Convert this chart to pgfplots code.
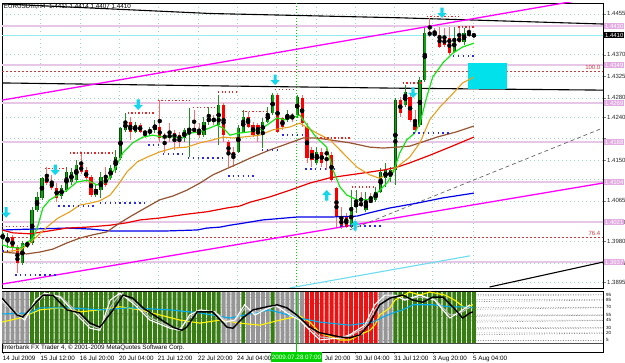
\documentclass[border=0pt]{standalone}
\usepackage{pgfplots}
\pgfplotsset{compat=1.18}
\usepackage{pgfplotstable}
\usepackage{fontspec}
\setmainfont{Liberation Sans}

\definecolor{bullo}{RGB}{10,80,10}
\definecolor{bullc}{RGB}{20,160,20}
\definecolor{bullw}{RGB}{40,140,40}
\definecolor{bearc}{RGB}{250,0,0}
\definecolor{bearw}{RGB}{250,110,110}
\definecolor{maGreen}{RGB}{20,230,20}
\definecolor{maOrange}{RGB}{230,160,30}
\definecolor{maBrown}{RGB}{150,85,50}
\definecolor{maRed}{RGB}{235,0,0}
\definecolor{maBlue}{RGB}{0,0,235}
\definecolor{magentaL}{RGB}{255,0,255}
\definecolor{pinkL}{RGB}{230,200,230}
\definecolor{curCyan}{RGB}{150,235,240}
\definecolor{fibRed}{RGB}{200,60,60}
\definecolor{arrowCyan}{RGB}{20,215,235}
\definecolor{boxCyan}{RGB}{0,225,235}
\definecolor{gridc}{RGB}{160,215,195}
\definecolor{resRed}{RGB}{230,40,40}
\definecolor{supBlue}{RGB}{40,40,240}
\definecolor{stripeG}{RGB}{55,125,20}
\definecolor{stripeGr}{RGB}{150,150,150}
\definecolor{stripeR}{RGB}{235,20,20}
\definecolor{stLime}{RGB}{0,210,0}
\definecolor{pinkBox}{RGB}{225,170,225}
\definecolor{lowCyan}{RGB}{110,220,240}

\pgfdeclareplotmark{arrdown}{%
  \pgfpathmoveto{\pgfqpoint{-1.6pt}{5.5pt}}%
  \pgfpathlineto{\pgfqpoint{1.6pt}{5.5pt}}%
  \pgfpathlineto{\pgfqpoint{1.6pt}{0pt}}%
  \pgfpathlineto{\pgfqpoint{4.6pt}{0pt}}%
  \pgfpathlineto{\pgfqpoint{0pt}{-5pt}}%
  \pgfpathlineto{\pgfqpoint{-4.6pt}{0pt}}%
  \pgfpathlineto{\pgfqpoint{-1.6pt}{0pt}}%
  \pgfpathclose
  \pgfusepathqfill}
\pgfdeclareplotmark{arrup}{%
  \pgfpathmoveto{\pgfqpoint{-1.6pt}{-5.5pt}}%
  \pgfpathlineto{\pgfqpoint{1.6pt}{-5.5pt}}%
  \pgfpathlineto{\pgfqpoint{1.6pt}{0pt}}%
  \pgfpathlineto{\pgfqpoint{4.6pt}{0pt}}%
  \pgfpathlineto{\pgfqpoint{0pt}{5pt}}%
  \pgfpathlineto{\pgfqpoint{-4.6pt}{0pt}}%
  \pgfpathlineto{\pgfqpoint{-1.6pt}{0pt}}%
  \pgfpathclose
  \pgfusepathqfill}

% EURUSD H4 candles: index, open, high, low, close
\pgfplotstableread{
i o h l c
0 1.3983 1.4006 1.3973 1.3998
1 1.3979 1.3998 1.3966 1.3989
4 1.3935 1.3981 1.3931 1.3977
5 1.3971 1.3981 1.3966 1.3977
6 1.3977 1.4052 1.3973 1.4046
7 1.4046 1.4083 1.4041 1.4073
8 1.4071 1.4115 1.4067 1.4112
12 1.4075 1.4098 1.4069 1.4092
13 1.4087 1.4136 1.4083 1.4125
14 1.4104 1.4133 1.4098 1.4125
15 1.4108 1.4150 1.4104 1.4140
19 1.4077 1.4098 1.4073 1.4090
20 1.4087 1.4125 1.4071 1.4115
22 1.4112 1.4140 1.4108 1.4133
23 1.4129 1.4171 1.4123 1.4156
24 1.4154 1.4219 1.4150 1.4217
25 1.4213 1.4248 1.4209 1.4230
27 1.4209 1.4230 1.4206 1.4223
30 1.4206 1.4219 1.4202 1.4213
31 1.4213 1.4234 1.4206 1.4223
37 1.4196 1.4217 1.4188 1.4213
38 1.4209 1.4259 1.4156 1.4217
41 1.4202 1.4240 1.4198 1.4230
42 1.4230 1.4261 1.4223 1.4238
44 1.4223 1.4286 1.4181 1.4265
48 1.4167 1.4223 1.4165 1.4217
49 1.4209 1.4254 1.4206 1.4240
53 1.4206 1.4238 1.4175 1.4230
54 1.4230 1.4261 1.4227 1.4248
55 1.4248 1.4290 1.4244 1.4286
58 1.4234 1.4254 1.4230 1.4244
60 1.4244 1.4286 1.4238 1.4282
64 1.4144 1.4177 1.4140 1.4167
71 1.4010 1.4087 1.4008 1.4052
72 1.4052 1.4087 1.4040 1.4060
74 1.4046 1.4083 1.4041 1.4062
76 1.4067 1.4094 1.4062 1.4083
77 1.4083 1.4133 1.4081 1.4125
78 1.4112 1.4144 1.4094 1.4129
79 1.4115 1.4136 1.4104 1.4129
80 1.4129 1.4280 1.4098 1.4275
82 1.4265 1.4307 1.4261 1.4292
85 1.4223 1.4323 1.4219 1.4317
86 1.4317 1.4426 1.4313 1.4415
92 1.4376 1.4428 1.4373 1.4405
94 1.4396 1.4426 1.4390 1.4415
}\bull
\pgfplotstableread{
i o h l c
2 1.3989 1.3994 1.3958 1.3966
3 1.3968 1.3973 1.3914 1.3935
9 1.4115 1.4136 1.4098 1.4102
10 1.4104 1.4119 1.4087 1.4092
11 1.4092 1.4102 1.4062 1.4071
16 1.4140 1.4165 1.4121 1.4125
17 1.4129 1.4136 1.4104 1.4112
18 1.4115 1.4119 1.4073 1.4077
21 1.4115 1.4136 1.4094 1.4098
26 1.4230 1.4240 1.4192 1.4209
28 1.4223 1.4227 1.4206 1.4209
29 1.4209 1.4213 1.4196 1.4206
32 1.4219 1.4275 1.4188 1.4196
33 1.4202 1.4206 1.4165 1.4196
34 1.4202 1.4227 1.4188 1.4198
35 1.4206 1.4213 1.4171 1.4196
36 1.4202 1.4209 1.4175 1.4192
39 1.4217 1.4254 1.4206 1.4209
40 1.4213 1.4227 1.4196 1.4202
43 1.4236 1.4244 1.4223 1.4232
45 1.4265 1.4269 1.4188 1.4202
46 1.4188 1.4192 1.4136 1.4161
47 1.4167 1.4177 1.4136 1.4156
50 1.4240 1.4250 1.4217 1.4219
51 1.4223 1.4230 1.4198 1.4202
52 1.4223 1.4227 1.4188 1.4206
56 1.4286 1.4290 1.4206 1.4209
57 1.4238 1.4240 1.4213 1.4219
59 1.4244 1.4248 1.4230 1.4238
61 1.4280 1.4286 1.4219 1.4227
62 1.4219 1.4227 1.4144 1.4154
63 1.4171 1.4177 1.4136 1.4150
65 1.4167 1.4175 1.4136 1.4144
66 1.4167 1.4175 1.4129 1.4161
67 1.4161 1.4167 1.4104 1.4108
68 1.4092 1.4094 1.4010 1.4031
69 1.4031 1.4052 1.4006 1.4010
70 1.4031 1.4040 1.4008 1.4010
73 1.4060 1.4083 1.4052 1.4056
75 1.4067 1.4081 1.4060 1.4062
81 1.4275 1.4282 1.4240 1.4248
83 1.4282 1.4286 1.4230 1.4234
84 1.4234 1.4254 1.4209 1.4213
87 1.4417 1.4447 1.4407 1.4411
88 1.4415 1.4426 1.4407 1.4411
89 1.4411 1.4428 1.4384 1.4386
90 1.4405 1.4426 1.4386 1.4390
91 1.4405 1.4428 1.4369 1.4373
93 1.4407 1.4428 1.4394 1.4396
95 1.4415 1.4428 1.4407 1.4411
96 1.4411 1.4414 1.4407 1.4410
}\bear

\begin{document}
\begin{tikzpicture}
\path[use as bounding box] (0,0) rectangle (625pt,363pt);
\fill[white] (0,0) rectangle (625pt,363pt);

\begin{axis}[
  at={(2pt,360pt)}, anchor=north west,
  width=601pt, height=285pt, scale only axis,
  xmin=-0.14, xmax=122.3, ymin=1.38829, ymax=1.44779,
  axis line style={line width=0.8pt},
  ytick={1.4455,1.4370,1.4325,1.4280,1.4240,1.4195,1.4150,1.4110,1.4065,1.4020,1.3980,1.3935,1.3895},
  yticklabels={1.4455,1.4370,1.4325,1.4280,1.4240,,1.4150,,1.4065,1.4020,1.3980,1.3935,1.3895},
  ytick pos=right, yticklabel pos=right,
  xtick={0,7.7,15.7,23.7,31.6,39.8,47.7,55.7,63.8,71.8,79.7,87.6,95.8},
  xticklabels={}, x tick style={draw=none},
  tick align=outside, major tick length=3pt,
  yticklabel style={font=\fontsize{6}{7}\selectfont, inner sep=1pt, text=black!85},
  grid=major, grid style={gridc, line width=0.5pt, dash pattern=on 0.6pt off 3.4pt},
  unbounded coords=jump,
]
% pivot style horizontal levels
\addplot[pinkL, line width=1.6pt, forget plot] coordinates {(-1,1.4430) (130,1.4430)};
\addplot[pinkL, line width=1.6pt, forget plot] coordinates {(-1,1.4349) (130,1.4349)};
\addplot[pinkL, line width=1.6pt, forget plot] coordinates {(-1,1.4269) (130,1.4269)};
\addplot[pinkL, line width=1.6pt, forget plot] coordinates {(-1,1.4188) (130,1.4188)};
\addplot[pinkL, line width=1.6pt, forget plot] coordinates {(-1,1.4104) (130,1.4104)};
\addplot[pinkL, line width=1.6pt, forget plot] coordinates {(-1,1.4021) (130,1.4021)};
\addplot[pinkL, line width=1.6pt, forget plot] coordinates {(-1,1.3937) (130,1.3937)};
% current bid
\addplot[curCyan, line width=1.5pt] coordinates {(-1,1.4410) (130,1.4410)};
% fibo levels
\addplot[fibRed, line width=0.6pt, dash pattern=on 2pt off 2pt] coordinates {(-1,1.4336) (130,1.4336)};
\addplot[fibRed, line width=0.6pt, dash pattern=on 2pt off 2pt] coordinates {(-1,1.3989) (130,1.3989)};
% vertical marker
\addplot[stLime, line width=0.7pt, dash pattern=on 1pt off 2pt] coordinates {(59.9,1.38) (59.9,1.45)};
% black trend lines
\addplot[black, line width=1.1pt] coordinates {(-0.14,1.4476) (42.2,1.4456) (80.9,1.4447) (122.3,1.4434)};
\addplot[black, line width=1.1pt] coordinates {(-0.14,1.4311) (42.2,1.4305) (80.9,1.4300) (122.3,1.4296)};
\addplot[black, line width=1.1pt] coordinates {(99.2,1.3885) (122.3,1.3937)};
% magenta channel
\addplot[magentaL, line width=1.3pt] coordinates {(-0.14,1.4275) (122.3,1.4492)};
\addplot[magentaL, line width=1.3pt] coordinates {(-0.14,1.3891) (122.3,1.4102)};
% dashed trend line
\addplot[black!60, line width=0.7pt, dash pattern=on 4pt off 3pt] coordinates {(70.7,1.4004) (122.3,1.4217)};
% cyan lower line
\addplot[lowCyan, line width=1.1pt] coordinates {(58.5,1.3883) (95.2,1.3950)};
% cyan target box
\addplot[draw=none, fill=boxCyan] coordinates {(94.8,1.4353) (102.7,1.4353) (102.7,1.4298) (94.8,1.4298)} -- cycle;

% candles: wicks
\addplot[only marks, mark=none, error bars/.cd, y dir=both, y explicit, error mark=none,
  error bar style={draw=bullw, line width=0.9pt}]
  table[x=i, y expr={(\thisrow{h}+\thisrow{l})/2}, y error expr={(\thisrow{h}-\thisrow{l})/2}] {\bull};
\addplot[only marks, mark=none, error bars/.cd, y dir=both, y explicit, error mark=none,
  error bar style={draw=bearw, line width=0.9pt}]
  table[x=i, y expr={(\thisrow{h}+\thisrow{l})/2}, y error expr={(\thisrow{h}-\thisrow{l})/2}] {\bear};
% candles: bodies
\addplot[only marks, mark=none, error bars/.cd, y dir=both, y explicit, error mark=none,
  error bar style={draw=bullo, line width=3.3pt}]
  table[x=i, y expr={(\thisrow{o}+\thisrow{c})/2}, y error expr={max(abs(\thisrow{c}-\thisrow{o})/2,0.00004)}] {\bull};
\addplot[only marks, mark=none, error bars/.cd, y dir=both, y explicit, error mark=none,
  error bar style={draw=bullc, line width=1.7pt}]
  table[x=i, y expr={(\thisrow{o}+\thisrow{c})/2}, y error expr={max(abs(\thisrow{c}-\thisrow{o})/2-0.00003,0.00001)}] {\bull};
\addplot[only marks, mark=none, error bars/.cd, y dir=both, y explicit, error mark=none,
  error bar style={draw=bearc, line width=3.2pt}]
  table[x=i, y expr={(\thisrow{o}+\thisrow{c})/2}, y error expr={max(abs(\thisrow{c}-\thisrow{o})/2,0.00003)}] {\bear};

% moving averages
\addplot[maBlue, line width=1.2pt] coordinates {(-0.14,1.4004) (6.2,1.4006) (13.1,1.4008) (17.8,1.4006) (21.9,1.4002) (33.5,1.4002) (39.6,1.4004) (41.6,1.4008) (44.3,1.4010) (46.3,1.4014) (48.3,1.4017) (53.0,1.4025) (59.9,1.4031) (66.7,1.4031) (72.2,1.4033) (74.8,1.4040) (78.9,1.4050) (84.4,1.4060) (89.7,1.4071) (96,1.4081)};
\addplot[maRed, line width=1.2pt] coordinates {(-0.14,1.4004) (2.1,1.3998) (5.6,1.3996) (8.2,1.4000) (13.1,1.4008) (17.2,1.4010) (21.9,1.4014) (25.3,1.4019) (28.0,1.4025) (32.0,1.4029) (37.5,1.4037) (41.6,1.4042) (45.7,1.4050) (48.3,1.4054) (50.4,1.4062) (54.4,1.4073) (58.5,1.4087) (62.6,1.4102) (66.7,1.4113) (70.7,1.4119) (74.8,1.4125) (77.5,1.4129) (80.3,1.4135) (82.9,1.4144) (87.0,1.4160) (91.1,1.4177) (96,1.4198)};
\addplot[maBrown, line width=1.2pt] coordinates {(-0.14,1.3958) (2.1,1.3956) (4.9,1.3954) (7.6,1.3958) (10.2,1.3964) (13.1,1.3977) (15.7,1.3987) (18.4,1.3994) (21.2,1.4000) (23.9,1.4019) (26.5,1.4035) (29.4,1.4052) (32.0,1.4067) (34.7,1.4075) (37.5,1.4087) (40.2,1.4102) (42.8,1.4119) (46.3,1.4135) (48.3,1.4144) (50.4,1.4154) (54.4,1.4171) (58.5,1.4186) (61.2,1.4196) (64.0,1.4196) (66.7,1.4192) (70.7,1.4186) (74.8,1.4177) (77.5,1.4175) (80.3,1.4177) (82.9,1.4179) (85.6,1.4188) (88.5,1.4198) (92.5,1.4209) (96,1.4221)};
\addplot[maOrange, line width=1.1pt] coordinates {(-0.14,1.3958) (3.5,1.3962) (5.6,1.3977) (7.2,1.3993) (9.0,1.4010) (11.3,1.4029) (13.7,1.4042) (15.7,1.4056) (17.8,1.4060) (19.8,1.4065) (21.9,1.4077) (23.5,1.4098) (25.3,1.4125) (27.4,1.4146) (29.4,1.4156) (32.0,1.4167) (34.7,1.4175) (37.5,1.4177) (40.2,1.4186) (42.8,1.4192) (44.9,1.4198) (46.9,1.4196) (48.9,1.4198) (52.4,1.4202) (55.0,1.4213) (58.5,1.4219) (60.5,1.4227) (62.2,1.4217) (64.0,1.4206) (66.7,1.4192) (69.3,1.4165) (72.2,1.4135) (74.8,1.4119) (76.8,1.4112) (78.9,1.4123) (80.9,1.4140) (82.9,1.4156) (85.0,1.4186) (87.0,1.4234) (89.1,1.4261) (91.1,1.4282) (93.7,1.4311) (96,1.4323)};
\addplot[maGreen, line width=1.2pt] coordinates {(-0.14,1.3973) (1.5,1.3968) (3.5,1.3966) (4.9,1.3977) (6.2,1.3987) (7.2,1.4014) (8.2,1.4050) (9.6,1.4067) (11.3,1.4077) (13.1,1.4087) (15.1,1.4104) (17.2,1.4108) (19.2,1.4098) (21.2,1.4104) (22.9,1.4133) (24.5,1.4165) (26.5,1.4186) (28.6,1.4198) (30.6,1.4202) (32.6,1.4198) (34.7,1.4198) (36.5,1.4196) (38.1,1.4206) (40.2,1.4209) (42.2,1.4217) (43.6,1.4223) (44.9,1.4217) (46.3,1.4202) (47.9,1.4206) (50.4,1.4209) (52.4,1.4213) (54.4,1.4227) (55.9,1.4238) (57.5,1.4234) (59.5,1.4240) (60.5,1.4244) (62.0,1.4223) (64.0,1.4196) (66.0,1.4177) (67.3,1.4129) (68.7,1.4094) (70.1,1.4077) (72.2,1.4067) (74.2,1.4067) (75.4,1.4071) (76.8,1.4087) (78.3,1.4102) (79.5,1.4123) (80.9,1.4165) (82.3,1.4192) (83.9,1.4206) (85.0,1.4227) (86.4,1.4282) (87.6,1.4323) (89.7,1.4353) (91.7,1.4373) (93.7,1.4386) (96,1.4394)};

% fractal resistance (red) and support (blue) levels
\addplot[resRed, line width=1.3pt, dash pattern=on 1.3pt off 2.2pt] coordinates {
 (-0.14,1.4012) (6.0,1.4012) (6.0,nan)
 (8.6,1.4133) (13.1,1.4133) (13.1,nan)
 (13.7,1.4165) (22.9,1.4165) (22.9,nan)
 (25.5,1.4248) (31.0,1.4248) (31.0,nan)
 (31.6,1.4275) (38.1,1.4275) (38.1,nan)
 (38.8,1.4259) (43.6,1.4259) (43.6,nan)
 (43.9,1.4292) (47.9,1.4292) (47.9,nan)
 (48.7,1.4252) (53.8,1.4252) (53.8,nan)
 (55.5,1.4298) (59.1,1.4298) (59.1,nan)
 (64.0,1.4196) (70.7,1.4196) (70.7,nan)
 (71.1,1.4094) (75.8,1.4094) (75.8,nan)
 (81.5,1.4311) (85.4,1.4311) (85.4,nan)
 (86.4,1.4449) (93.0,1.4449) (93.0,nan)
 (92.8,1.4428) (96.0,1.4428)};
\addplot[supBlue, line width=1.6pt, dash pattern=on 1.6pt off 3.3pt] coordinates {
 (-0.14,1.3960) (0.9,1.3960) (0.9,nan)
 (2.5,1.3910) (11.1,1.3910) (11.1,nan)
 (11.3,1.4054) (18.8,1.4054) (18.8,nan)
 (19.8,1.4060) (29.0,1.4060) (29.0,nan)
 (29.6,1.4181) (32.0,1.4181) (32.0,nan)
 (32.6,1.4163) (36.7,1.4163) (36.7,nan)
 (37.7,1.4154) (44.9,1.4154) (44.9,nan)
 (45.9,1.4117) (51.8,1.4117) (51.8,nan)
 (52.8,1.4171) (55.9,1.4171) (55.9,nan)
 (56.9,1.4202) (60.9,1.4202) (60.9,nan)
 (61.6,1.4131) (67.7,1.4131) (67.7,nan)
 (68.7,1.4012) (77.5,1.4012) (77.5,nan)
 (83.6,1.4206) (91.1,1.4206) (91.1,nan)
 (91.7,1.4367) (96.0,1.4367)};
% signal arrows
\addplot[only marks, mark=arrdown, mark options={fill=arrowCyan, draw=none}] coordinates {(0.7,1.4040) (10.7,1.4129) (27.6,1.4265) (55.5,1.4317) (83.6,1.4290) (89.5,1.4457)};
\addplot[only marks, mark=arrup, mark options={fill=arrowCyan, draw=none}] coordinates {(66,1.4077) (71.8,1.4014)};
\node[anchor=north west, font=\fontsize{6.3}{7}\selectfont, inner sep=0.5pt] at (rel axis cs:0.002,1.0) {EURUSDm,H4\ \ 1.4411 1.4414 1.4407 1.4410};
\end{axis}

% indicator window
\begin{axis}[
  at={(2pt,72pt)}, anchor=north west,
  width=601pt, height=61pt, scale only axis,
  xmin=-0.14, xmax=122.3, ymin=-17.6, ymax=102,
  axis line style={line width=0.8pt},
  ytick={95,85,70,55,45,30,20,5}, yticklabels={95,85,70,55,45,30,20,5},
  ytick pos=right, yticklabel pos=right,
  yticklabel style={font=\fontsize{4.5}{5}\selectfont, inner sep=0.5pt},
  xtick={0,7.7,15.7,23.7,31.6,39.8,47.7,55.7,63.8,71.8,79.7,87.6,95.8},
  xticklabels={14 Jul 2009,15 Jul 12:00,16 Jul 20:00,20 Jul 04:00,21 Jul 12:00,22 Jul 20:00,24 Jul 04:00,,\phantom{28 }Jul 20:00,30 Jul 04:00,31 Jul 12:00,3 Aug 20:00,5 Aug 04:00},
  xtick pos=bottom, tick align=outside, major tick length=2.5pt,
  xticklabel style={anchor=north west, font=\fontsize{6.3}{7}\selectfont, inner sep=1pt, xshift=-1pt},
  y tick style={draw=none},
]
\addplot[black!45, line width=0.6pt, dash pattern=on 1pt off 1.5pt, forget plot] coordinates {(-1,95) (130,95) (130,nan) (-1,85) (130,85) (130,nan) (-1,70) (130,70) (130,nan) (-1,55) (130,55) (130,nan) (-1,45) (130,45) (130,nan) (-1,30) (130,30) (130,nan) (-1,20) (130,20) (130,nan) (-1,5) (130,5)};
\addplot[black!70, line width=0.8pt] coordinates {(-1,-1.5) (130,-1.5)};
\addplot[ybar, bar width=3.9pt, fill=stripeGr, draw=none] coordinates {(0,100) (1,100) (2,100) (3,100) (4,100) (5,100) (45,100) (46,100) (47,100) (48,100) (50,100) (51,100) (52,100) (53,100) (54,100) (56,100) (57,100) (58,100) (59,100) (60,100) (61,100) (77,100) (78,100) (79,100)};
\addplot[ybar, bar width=3.9pt, fill=stripeG, draw=none] coordinates {(6,100) (7,100) (8,100) (9,100) (10,100) (11,100) (12,100) (13,100) (14,100) (15,100) (16,100) (17,100) (18,100) (19,100) (20,100) (21,100) (22,100) (23,100) (24,100) (25,100) (26,100) (27,100) (28,100) (29,100) (30,100) (31,100) (32,100) (33,100) (34,100) (35,100) (36,100) (37,100) (38,100) (39,100) (40,100) (41,100) (42,100) (43,100) (44,100) (49,100) (55,100) (80,100) (81,100) (82,100) (83,100) (84,100) (85,100) (86,100) (87,100) (88,100) (89,100) (90,100) (91,100) (92,100) (93,100) (94,100) (95,100) (96,100)};
\addplot[ybar, bar width=3.9pt, fill=stripeR, draw=none] coordinates {(62,100) (63,100) (64,100) (65,100) (66,100) (67,100) (68,100) (69,100) (70,100) (71,100) (72,100) (73,100) (74,100) (75,100) (76,100)};
\addplot[stLime, line width=0.8pt] coordinates {(59.9,-17) (59.9,101)};
% oscillator lines
\addplot[yellow, line width=1.1pt] coordinates {(-0.14,41) (3.5,49) (7.6,65) (11.7,69) (15.7,61) (19.8,65) (23.9,71) (28.0,65) (32.0,55) (36.1,45) (40.2,39) (44.3,45) (48.3,39) (52.4,35) (56.5,45) (60.5,53) (62.6,41) (64.6,20) (68.7,6) (70.7,6) (72.8,16) (74.8,25) (75.8,35) (76.8,55) (78.9,69) (79.9,84) (82.9,100) (85.0,94) (87.0,100) (90.1,94) (92.1,84) (94.1,69) (95.8,75)};
\addplot[cyan, line width=1.1pt] coordinates {(-0.14,57) (5.6,59) (7.6,69) (13.7,69) (19.8,65) (25.9,69) (34.1,65) (40.2,59) (46.3,49) (52.4,61) (54.4,65) (60.5,49) (64.6,41) (70.7,35) (75.4,41) (77.5,51) (79.5,59) (81.5,65) (83.6,75) (87.6,75) (91.1,71) (94.6,71) (95.8,69)};
\addplot[black!25, line width=1pt] coordinates {(-0.14,80) (2.5,62) (4.5,50) (6.6,76) (8.6,95) (11.7,92) (14.7,65) (17.8,35) (19.8,28) (21.9,70) (23.9,96) (26.9,80) (30.0,50) (34.1,32) (36.1,28) (38.1,50) (40.2,63) (43.2,62) (45.3,45) (47.3,42) (49.3,68) (51.4,60) (53.4,66) (55.5,72) (58.5,60) (60.5,48) (62.6,30) (64.6,12) (68.7,8) (70.7,14) (73.8,30) (75.8,65) (77.9,90) (79.9,92) (81.9,86) (85.0,90) (88.0,86) (91.1,55) (93.1,58) (95.2,70)};
\addplot[white, line width=1.1pt] coordinates {(-0.14,84) (2.5,59) (4.5,45) (6.6,84) (8.6,98) (11.7,90) (14.7,59) (17.8,29) (19.8,25) (21.9,84) (23.9,98) (26.9,75) (30.0,45) (34.1,29) (36.1,25) (38.1,55) (40.2,65) (43.2,61) (45.3,41) (47.3,45) (49.3,75) (51.4,55) (53.4,65) (55.5,75) (58.5,55) (60.5,45) (62.6,25) (64.6,6) (68.7,10) (70.7,16) (73.8,35) (75.8,75) (77.9,94) (79.9,94) (81.9,84) (85.0,94) (88.0,84) (91.1,49) (93.1,61) (95.2,75)};
\addplot[black, line width=1.4pt] coordinates {(-0.14,88) (2.9,55) (4.1,51) (8.2,94) (10.2,94) (13.1,65) (15.7,59) (17.8,39) (19.8,31) (22.5,65) (24.5,94) (26.5,88) (28.6,69) (31.4,51) (34.7,31) (36.5,25) (37.5,31) (39.6,61) (42.8,61) (45.7,31) (46.9,29) (48.9,49) (51.0,65) (53.8,71) (55.9,75) (57.9,69) (59.9,55) (62.6,31) (64.6,20) (66.7,16) (68.7,12) (70.7,10) (72.8,16) (74.8,39) (76.8,75) (78.9,88) (81.5,94) (83.6,84) (85.6,80) (87.6,90) (89.7,90) (91.7,71) (93.7,49) (95.2,59) (95.8,61)};
\end{axis}

% texts and boxes
\node[anchor=base west, font=\fontsize{6.3}{7}\selectfont, inner sep=0pt] at (3pt,13pt) {Interbank FX Trader 4, \textcopyright\ 2001-2009 MetaQuotes Software Corp.};
\node[anchor=south east, text=fibRed, font=\fontsize{6}{7}\selectfont, inner sep=0.5pt] at (601pt,293pt) {100.0};
\node[anchor=south east, text=fibRed, font=\fontsize{6}{7}\selectfont, inner sep=0.5pt] at (601pt,127pt) {76.4};
\foreach \yy/\tt in {337/1.4430,298/1.4349,260/1.4269,221/1.4188,181/1.4104,141/1.4021,101/1.3937}{
  \node[anchor=west, fill=pinkBox, text=white, font=\fontsize{6}{7}\selectfont, inner sep=0.8pt] at (604pt,\yy pt) {\tt};
}
\node[anchor=west, fill=black, text=white, font=\fontsize{6}{7}\selectfont, inner sep=0.8pt] at (604pt,328pt) {1.4410};
\node[fill=stLime, text=white, font=\fontsize{6.3}{7}\selectfont, minimum width=47pt, minimum height=10pt, inner sep=0.5pt] at (296.5pt,5.5pt) {2009.07.28 07:00};
\end{tikzpicture}
\end{document}
